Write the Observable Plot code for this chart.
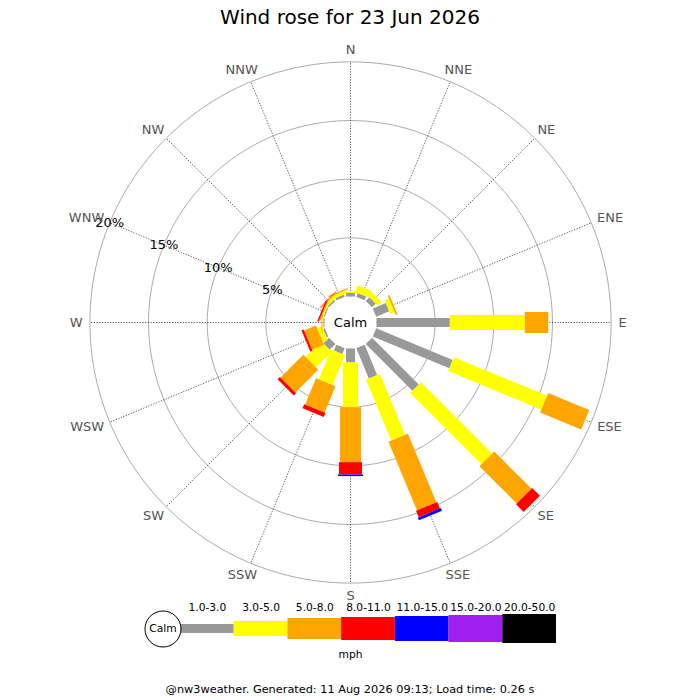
<!DOCTYPE html>
<html>
<head>
<meta charset="utf-8">
<script src="https://cdn.jsdelivr.net/npm/d3@7"></script>
<script src="https://cdn.jsdelivr.net/npm/@observablehq/plot@0.6"></script>
<style>
  html, body { margin: 0; padding: 0; background: white; }
  #wrap { position: relative; width: 700px; height: 700px; font-family: "DejaVu Sans", sans-serif; overflow: hidden; }
  #title { position: absolute; left: 0; top: 4px; width: 700px; text-align: center; font-size: 20px; line-height: 26px; color: #000; }
  #rose { position: absolute; left: 0; top: 36px; }
  #legend { position: absolute; left: 0; top: 602px; }
  #footer { position: absolute; left: 0; top: 682px; width: 700px; text-align: center; font-size: 11.3px; line-height: 16px; color: #000; }
</style>
</head>
<body>
<div id="wrap">
  <div id="title">Wind rose for 23 Jun 2026</div>
  <div id="rose"></div>
  <div id="legend"></div>
  <div id="footer">@nw3weather. Generated: 11 Aug 2026 09:13; Load time: 0.26 s</div>
</div>
<script>
// ---- data ----
const directions = ["N","NNE","NE","ENE","E","ESE","SE","SSE","S","SSW","SW","WSW","W","WNW","NW","NNW"];
const speedClasses = ["1.0-3.0","3.0-5.0","5.0-8.0","8.0-11.0","11.0-15.0","15.0-20.0","20.0-50.0"];
const classColors = ["#999999","#ffff00","#ffa500","#ff0000","#0000ff","#a020f0","#000000"];
// percent of time per direction, for each speed class (mph)
const pct1to3   = [0.30, 0.35, 0.45, 1.20, 6.25, 7.06, 5.63, 2.79, 1.17, 0.53, 0.68, 0.15, 0.10, 0.10, 0.15, 0.20];
const pct3to5   = [0.10, 0.60, 0.45, 0.40, 6.39, 8.60, 8.59, 5.62, 3.83, 2.76, 1.89, 0.45, 0.07, 0.12, 0.25, 0.28];
const pct5to8   = [0.00, 0.00, 0.00, 0.15, 2.00, 3.78, 4.50, 6.34, 4.69, 2.44, 2.75, 1.10, 0.08, 0.10, 0.10, 0.12];
const pct8to11  = [0.00, 0.00, 0.00, 0.00, 0.00, 0.00, 0.92, 0.60, 1.05, 0.37, 0.28, 0.20, 0.00, 0.13, 0.05, 0.00];
const pct11to15 = [0.00, 0.00, 0.00, 0.00, 0.00, 0.00, 0.00, 0.25, 0.14, 0.00, 0.00, 0.00, 0.00, 0.00, 0.00, 0.00];
const pct15to20 = [0, 0, 0, 0, 0, 0, 0, 0, 0, 0, 0, 0, 0, 0, 0, 0];
const pct20to50 = [0, 0, 0, 0, 0, 0, 0, 0, 0, 0, 0, 0, 0, 0, 0, 0];
const ringPct = [5, 10, 15, 20];
const ringLabels = ["5%", "10%", "15%", "20%"];
const unitLabel = "mph";
const calmLabel = "Calm";

// ---- styling / layout constants ----
const FONT = "DejaVu Sans";
const K = 11.73;            // px per percent
const CALM = 26 / K;        // calm circle radius in percent units
const LABEL_R = 268 / K;    // direction label radius
const LABEL_SIZE = 13;
const barWidths = [9, 15, 21, 23, 25, 27, 29];
const RW = 700, RH = 566, CY = 286;

const series = [pct1to3, pct3to5, pct5to8, pct8to11, pct11to15, pct15to20, pct20to50];
const rad = deg => deg * Math.PI / 180;
const dirAngle = i => i * 360 / directions.length;
const px = (u, a) => u * Math.sin(rad(a));
const py = (u, a) => u * Math.cos(rad(a));

// bar segments
const segments = [];
directions.forEach((dir, i) => {
  let cum = 0;
  series.forEach((s, j) => {
    const v = s[i];
    if (v > 0) {
      segments.push({dir, cls: speedClasses[j], j, a: dirAngle(i), r0: CALM + cum, r1: CALM + cum + v});
    }
    cum += v;
  });
});

// rings
const ringPts = ringPct.flatMap(p => d3.range(0, 361, 2).map(a => ({ring: p, a, u: CALM + p})));
const calmPts = d3.range(0, 361, 2).map(a => ({a, u: CALM}));

// direction labels: text box pushed outward by half its size
const ctx = document.createElement("canvas").getContext("2d");
ctx.font = `${LABEL_SIZE}px "${FONT}"`;
const dirRows = directions.map((d, i) => ({label: d, a: dirAngle(i), w: ctx.measureText(d).width}));
const labelMarks = dirRows.map(r => Plot.text([r], {
  x: d => px(LABEL_R, d.a), y: d => py(LABEL_R, d.a), text: "label",
  dx: (r.w / 2) * Math.sin(rad(r.a)), dy: -5 * Math.cos(rad(r.a)),
  textAnchor: "middle", lineAnchor: "middle", fontSize: LABEL_SIZE, fill: "#555"
}));

const pctAngle = dirAngle(directions.indexOf("WNW"));

const barMarks = speedClasses.map((cls, j) => Plot.link(segments.filter(s => s.j === j), {
  x1: s => px(s.r0, s.a), y1: s => py(s.r0, s.a),
  x2: s => px(s.r1, s.a), y2: s => py(s.r1, s.a),
  stroke: "cls", strokeWidth: barWidths[j]
}));

const rose = Plot.plot({
  width: RW, height: RH,
  marginTop: 0, marginRight: 0, marginBottom: 0, marginLeft: 0,
  style: {fontFamily: FONT, background: "transparent", overflow: "visible"},
  x: {domain: [-(RW / 2) / K, (RW / 2) / K], axis: null},
  y: {domain: [-(RH - CY) / K, CY / K], axis: null},
  color: {domain: speedClasses, range: classColors, legend: false},
  marks: [
    Plot.line(ringPts, {x: d => px(d.u, d.a), y: d => py(d.u, d.a), z: "ring", stroke: "#aaa", strokeWidth: 1}),
    Plot.link(dirRows, {
      x1: r => px(CALM, r.a), y1: r => py(CALM, r.a),
      x2: r => px(CALM + ringPct[ringPct.length - 1], r.a), y2: r => py(CALM + ringPct[ringPct.length - 1], r.a),
      stroke: "#444", strokeWidth: 0.9, strokeDasharray: "1.2,1.5"
    }),
    Plot.line(calmPts, {x: d => px(d.u, d.a), y: d => py(d.u, d.a), fill: "white", stroke: "none"}),
    ...barMarks,
    Plot.text(ringPct, {x: p => px(CALM + p, pctAngle), y: p => py(CALM + p, pctAngle), text: (p, i) => ringLabels[i], fontSize: 13, fill: "#000"}),
    ...labelMarks,
    Plot.text([calmLabel], {x: () => 0, y: () => 0, text: d => d, fontSize: 13, fill: "#000"})
  ]
});
document.getElementById("rose").appendChild(rose);

// ---- legend ----
const LW_ = 700, LH = 64, LCY = 26.5;
const LX0 = 180, LBOX = 376 / 7;
const legend = Plot.plot({
  width: LW_, height: LH,
  marginTop: 0, marginRight: 0, marginBottom: 0, marginLeft: 0,
  style: {fontFamily: FONT, background: "transparent", overflow: "visible"},
  x: {domain: [0, LW_], axis: null},
  y: {domain: [-(LH - LCY), LCY], axis: null},
  color: {domain: speedClasses, range: classColors, legend: false},
  marks: [
    Plot.rect(speedClasses, {
      x1: (d, i) => LX0 + i * LBOX, x2: (d, i) => LX0 + (i + 1) * LBOX,
      y1: (d, i) => -barWidths[i] / 2, y2: (d, i) => barWidths[i] / 2,
      fill: d => d
    }),
    Plot.text(speedClasses, {x: (d, i) => LX0 + (i + 0.5) * LBOX, y: () => 21.5, text: d => d, fontSize: 10.7, fill: "#000"}),
    Plot.dot([calmLabel], {x: () => LX0 - 17.5, y: () => 0, r: 18, fill: "white", stroke: "#000", strokeWidth: 1}),
    Plot.text([calmLabel], {x: () => LX0 - 17.5, y: () => 0, text: d => d, fontSize: 10.7, fill: "#000"}),
    Plot.text([unitLabel], {x: () => LW_ / 2, y: () => -25.5, text: d => d, fontSize: 10.7, fill: "#000"})
  ]
});
document.getElementById("legend").appendChild(legend);
</script>
</body>
</html>
